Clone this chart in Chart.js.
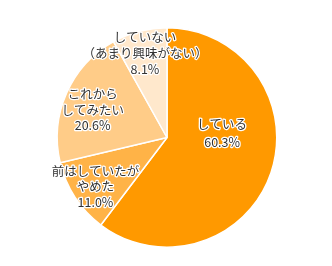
<!DOCTYPE html>
<html><head><meta charset="utf-8">
<script src="https://cdn.jsdelivr.net/npm/chart.js@4"></script>
<style>html,body{margin:0;padding:0;background:#fff;}#wrap{width:332px;height:266px;}</style>
</head><body><div id="wrap"><canvas id="c"></canvas></div>
<script>
const categories = [["している"], ["前はしていたが","やめた"], ["これから","してみたい"], ["していない","（あまり興味がない）"]];
const values = [60.3, 11.0, 20.6, 8.1];
const valueLabels = ["60.3%", "11.0%", "20.6%", "8.1%"];
const colors = ["#FF9900", "#FFB347", "#FFCC88", "#FFE8CC"];
const labelRadius = [0.52, 0.80, 0.80, 0.80];
const labelDy = [-22, 1, 8, 1];
const labelDx = [1, 2, 6, 0];
const lineGap = [18, 15.5, 15.5, 16];

const labelPlugin = {
  id: 'sliceLabels',
  afterDatasetsDraw(chart) {
    const ctx = chart.ctx;
    const meta = chart.getDatasetMeta(0);
    ctx.save();
    ctx.font = '12.5px "Noto Sans CJK JP", sans-serif';
    ctx.textAlign = 'center';
    ctx.textBaseline = 'middle';
    ctx.lineJoin = 'round';
    meta.data.forEach((arc, i) => {
      const p = arc.getProps(['x','y','startAngle','endAngle','outerRadius'], true);
      const mid = (p.startAngle + p.endAngle) / 2;
      const r = p.outerRadius * labelRadius[i];
      const cx = p.x + Math.cos(mid) * r + labelDx[i];
      const cy = p.y + Math.sin(mid) * r + labelDy[i];
      const lines = categories[i].concat([valueLabels[i]]);
      const lh = lineGap[i];
      const y0 = cy - (lines.length - 1) * lh / 2;
      lines.forEach((t, k) => {
        ctx.lineWidth = 2.5;
        ctx.strokeStyle = '#ffffff';
        ctx.strokeText(t, cx, y0 + k * lh);
        ctx.fillStyle = '#333333';
        ctx.fillText(t, cx, y0 + k * lh);
      });
    });
    ctx.restore();
  }
};

new Chart(document.getElementById('c'), {
  type: 'pie',
  data: {
    labels: categories.map(c => c.join('')),
    datasets: [{ data: values, backgroundColor: colors, borderColor: '#ffffff', borderWidth: 1.5 }]
  },
  options: {
    responsive: true,
    maintainAspectRatio: false,
    animation: false,
    layout: { padding: { top: 27, bottom: 18, left: 2, right: 0 } },
    plugins: { legend: { display: false }, tooltip: { enabled: false } }
  },
  plugins: [labelPlugin]
});
</script>
</body></html>
